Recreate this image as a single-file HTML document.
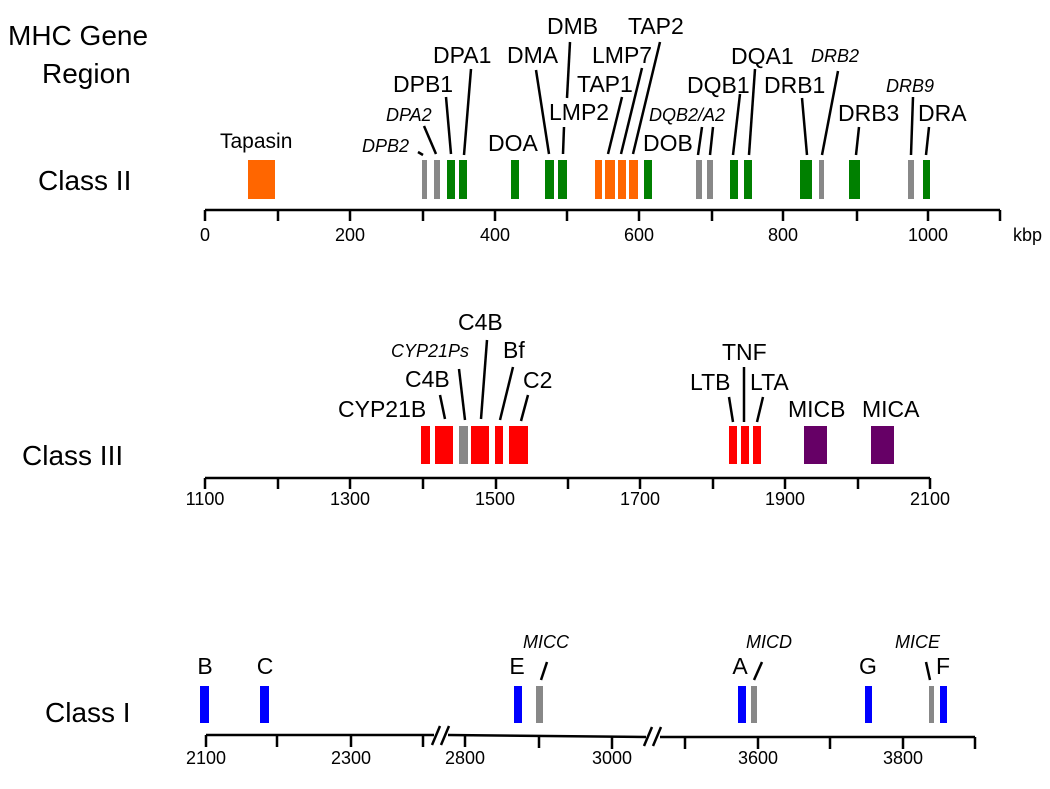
<!DOCTYPE html>
<html><head><meta charset="utf-8"><style>
html,body{margin:0;padding:0;background:#fff}
svg{display:block}
text{font-family:"Liberation Sans",Arial,sans-serif;fill:#000}
.l{font-size:23px}
.i{font-size:18px;font-style:italic}
.big{font-size:28px}
.t{font-size:18px}
</style></head><body>
<svg width="1050" height="789" viewBox="0 0 1050 789" xmlns="http://www.w3.org/2000/svg">
<g stroke="#000" stroke-width="2.5" fill="none">
<line x1="205" y1="210" x2="1000" y2="210"/>
<path d="M205 210V221M278 210V221M350 210V221M423 210V221M495 210V221M567 210V221M639 210V221M712 210V221M783 210V221M857 210V221M928 210V221M1000 210V221"/>
<line x1="205" y1="478" x2="930" y2="478"/>
<path d="M205 478V489M278 478V489M350 478V489M423 478V489M496 478V489M568 478V489M640 478V489M713 478V489M785 478V489M858 478V489M930 478V489"/>
<line x1="206" y1="735" x2="434" y2="735"/>
<line x1="448" y1="735" x2="646" y2="737"/>
<line x1="660" y1="737" x2="975" y2="737"/>
<path d="M206 735V747M277 735V747M351 735V747M423 735V747M465 735V747M539 736V748M612 737V749M685 737V749M758 737V749M830 737V749M903 737V749M975 737V749"/>
<path d="M432 745L440 726M441 745L449 726M644 746L652 727M653 746L661 727"/>
</g>
<g stroke="#000" stroke-width="2.5">
<line x1="418" y1="152" x2="423" y2="155"/>
<line x1="424" y1="126" x2="436" y2="154"/>
<line x1="446" y1="97" x2="451" y2="154"/>
<line x1="471" y1="69" x2="464" y2="155"/>
<line x1="536" y1="70" x2="549" y2="154"/>
<line x1="570" y1="42" x2="567" y2="98"/>
<line x1="564" y1="127" x2="563" y2="154"/>
<line x1="622" y1="97" x2="608" y2="154"/>
<line x1="642" y1="68" x2="621" y2="154"/>
<line x1="660" y1="42" x2="633" y2="154"/>
<line x1="702" y1="127" x2="698" y2="155"/>
<line x1="713" y1="127" x2="710" y2="155"/>
<line x1="740" y1="94" x2="733" y2="155"/>
<line x1="755" y1="69" x2="749" y2="155"/>
<line x1="802" y1="98" x2="807" y2="155"/>
<line x1="838" y1="71" x2="822" y2="155"/>
<line x1="859" y1="127" x2="856" y2="155"/>
<line x1="913" y1="97" x2="911" y2="155"/>
<line x1="929" y1="127" x2="926" y2="155"/>
<line x1="440" y1="395" x2="445" y2="419"/>
<line x1="459" y1="369" x2="465" y2="420"/>
<line x1="487" y1="340" x2="481" y2="419"/>
<line x1="513" y1="367" x2="500" y2="420"/>
<line x1="528" y1="395" x2="521" y2="421"/>
<line x1="729" y1="397" x2="733" y2="422"/>
<line x1="744" y1="367" x2="744" y2="422"/>
<line x1="763" y1="397" x2="757" y2="422"/>
<line x1="547" y1="662" x2="541" y2="680"/>
<line x1="762" y1="662" x2="754" y2="680"/>
<line x1="926" y1="662" x2="930" y2="680"/>
</g>
<!-- Class II bars -->
<g>
<rect x="248" y="160" width="27" height="39" fill="#ff6600"/>
<rect x="422" y="160" width="5" height="39" fill="#888"/>
<rect x="434" y="160" width="6" height="39" fill="#888"/>
<rect x="447" y="160" width="8" height="39" fill="#008000"/>
<rect x="459" y="160" width="8" height="39" fill="#008000"/>
<rect x="511" y="160" width="8" height="39" fill="#008000"/>
<rect x="545" y="160" width="9" height="39" fill="#008000"/>
<rect x="558" y="160" width="9" height="39" fill="#008000"/>
<rect x="595" y="160" width="7" height="39" fill="#ff6600"/>
<rect x="605" y="160" width="10" height="39" fill="#ff6600"/>
<rect x="618" y="160" width="8" height="39" fill="#ff6600"/>
<rect x="629" y="160" width="9" height="39" fill="#ff6600"/>
<rect x="644" y="160" width="8" height="39" fill="#008000"/>
<rect x="696" y="160" width="6" height="39" fill="#888"/>
<rect x="707" y="160" width="6" height="39" fill="#888"/>
<rect x="730" y="160" width="8" height="39" fill="#008000"/>
<rect x="744" y="160" width="8" height="39" fill="#008000"/>
<rect x="800" y="160" width="12" height="39" fill="#008000"/>
<rect x="819" y="160" width="5" height="39" fill="#888"/>
<rect x="849" y="160" width="11" height="39" fill="#008000"/>
<rect x="908" y="160" width="6" height="39" fill="#888"/>
<rect x="923" y="160" width="7" height="39" fill="#008000"/>
</g>
<!-- Class III bars -->
<g fill="#ff0000">
<rect x="421" y="426" width="9" height="38"/>
<rect x="435" y="426" width="18" height="38"/>
<rect x="459" y="426" width="9" height="38" fill="#888"/>
<rect x="471" y="426" width="18" height="38"/>
<rect x="495" y="426" width="8" height="38"/>
<rect x="509" y="426" width="19" height="38"/>
<rect x="729" y="426" width="8" height="38"/>
<rect x="741" y="426" width="8" height="38"/>
<rect x="753" y="426" width="8" height="38"/>
<rect x="804" y="426" width="23" height="38" fill="#660066"/>
<rect x="871" y="426" width="23" height="38" fill="#660066"/>
</g>
<!-- Class I bars -->
<g fill="#0000ff">
<rect x="200" y="686" width="9" height="37"/>
<rect x="260" y="686" width="9" height="37"/>
<rect x="514" y="686" width="8" height="37"/>
<rect x="536" y="686" width="7" height="37" fill="#888"/>
<rect x="738" y="686" width="8" height="37"/>
<rect x="751" y="686" width="6" height="37" fill="#888"/>
<rect x="865" y="686" width="7" height="37"/>
<rect x="929" y="686" width="5" height="37" fill="#888"/>
<rect x="940" y="686" width="7" height="37"/>
</g>
<!-- Left labels -->
<text class="big" x="8" y="45">MHC Gene</text>
<text class="big" x="42" y="83">Region</text>
<text class="big" x="38" y="190">Class II</text>
<text class="big" x="22" y="465">Class III</text>
<text class="big" x="45" y="722">Class I</text>
<!-- Class II labels -->
<text x="220" y="148" style="font-size:21px">Tapasin</text>
<text class="i" x="362" y="152">DPB2</text>
<text class="i" x="386" y="121">DPA2</text>
<text class="l" x="393" y="92">DPB1</text>
<text class="l" x="433" y="63">DPA1</text>
<text class="l" x="488" y="151">DOA</text>
<text class="l" x="507" y="63">DMA</text>
<text class="l" x="547" y="34">DMB</text>
<text class="l" x="549" y="120">LMP2</text>
<text class="l" x="577" y="92">TAP1</text>
<text class="l" x="592" y="63">LMP7</text>
<text class="l" x="628" y="34">TAP2</text>
<text class="i" x="649" y="121">DQB2/A2</text>
<text class="l" x="643" y="151">DOB</text>
<text class="l" x="687" y="93">DQB1</text>
<text class="l" x="731" y="64">DQA1</text>
<text class="l" x="764" y="93">DRB1</text>
<text class="i" x="811" y="62">DRB2</text>
<text class="l" x="838" y="121">DRB3</text>
<text class="i" x="886" y="92">DRB9</text>
<text class="l" x="918" y="121">DRA</text>
<g class="t" text-anchor="middle">
<text x="205" y="241">0</text><text x="350" y="241">200</text><text x="495" y="241">400</text>
<text x="639" y="241">600</text><text x="783" y="241">800</text><text x="928" y="241">1000</text>
</g>
<text class="t" x="1013" y="241">kbp</text>
<!-- Class III labels -->
<text class="l" x="338" y="417">CYP21B</text>
<text class="l" x="405" y="387">C4B</text>
<text class="i" x="391" y="357">CYP21Ps</text>
<text class="l" x="458" y="330">C4B</text>
<text class="l" x="503" y="358">Bf</text>
<text class="l" x="523" y="388">C2</text>
<text class="l" x="690" y="390">LTB</text>
<text class="l" x="722" y="360">TNF</text>
<text class="l" x="750" y="390">LTA</text>
<text class="l" x="788" y="417">MICB</text>
<text class="l" x="862" y="417">MICA</text>
<g class="t" text-anchor="middle">
<text x="205" y="505">1100</text><text x="350" y="505">1300</text><text x="495" y="505">1500</text>
<text x="640" y="505">1700</text><text x="785" y="505">1900</text><text x="930" y="505">2100</text>
</g>
<!-- Class I labels -->
<g class="l" text-anchor="middle">
<text x="205" y="674">B</text><text x="265" y="674">C</text><text x="517" y="674">E</text>
<text x="740" y="674">A</text><text x="868" y="674">G</text><text x="943" y="674">F</text>
</g>
<text class="i" x="523" y="648">MICC</text>
<text class="i" x="746" y="648">MICD</text>
<text class="i" x="895" y="648">MICE</text>
<g class="t" text-anchor="middle">
<text x="206" y="764">2100</text><text x="351" y="764">2300</text><text x="465" y="764">2800</text>
<text x="612" y="764">3000</text><text x="758" y="764">3600</text><text x="903" y="764">3800</text>
</g>
</svg>
</body></html>
